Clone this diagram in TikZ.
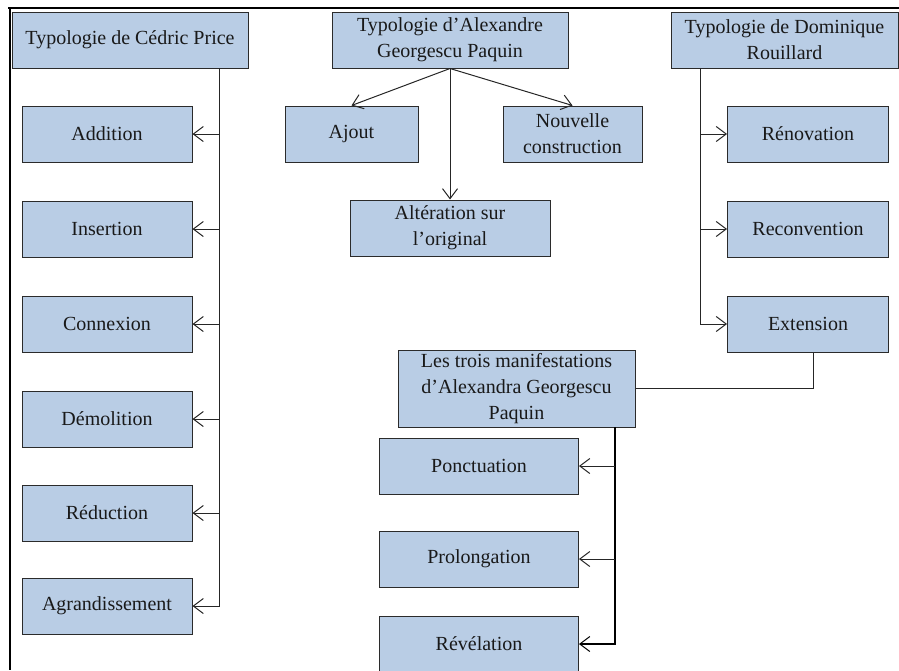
\documentclass[tikz,border=0pt]{standalone}
\usepackage{fontspec}
\setmainfont{Liberation Serif}
\usetikzlibrary{arrows.meta,calc}
\definecolor{boxfill}{HTML}{B9CDE5}
\definecolor{boxline}{HTML}{2B2B2B}

\begin{document}
\begin{tikzpicture}[x=1pt,y=-1pt,
  box/.style={draw=boxline, line width=1pt, fill=boxfill, align=center,
    inner sep=0pt, text=black!90, font=\fontsize{20}{26}\selectfont},
  sz/.style 2 args={minimum width=#1pt, minimum height=#2pt},
  link/.style={line width=1pt, draw=black!85},
  arr/.style={link, -{Straight Barb[length=10pt,width=15pt,line width=1pt]}},
  frame/.style={line width=2pt, draw=black}]

\useasboundingbox (0,0) rectangle (899,670);
\clip (0,0) rectangle (899,670);

% outer frame (top and left edges)
\draw[frame] (8,8) -- (899,8);
\draw[frame] (10,8) -- (10,670);

% headings
\node[box, sz={236}{56}] (cedric) at (130,40) {Typologie de Cédric Price};
\node[box, sz={236}{56}] (alex) at (450,40) {Typologie d’Alexandre\\Georgescu Paquin};
\node[box, sz={227}{56}] (dom) at (784.5,40) {Typologie de Dominique\\Rouillard};

% Price column
\node[box, sz={170}{56}] (add) at (107,134) {Addition};
\node[box, sz={170}{56}] (ins) at (107,229) {Insertion};
\node[box, sz={170}{56}] (con) at (107,324) {Connexion};
\node[box, sz={170}{56}] (dem) at (107,419) {Démolition};
\node[box, sz={170}{56}] (red) at (107,513) {Réduction};
\node[box, sz={170}{56}] (agr) at (107,606) {Agrandissement};

% Georgescu Paquin typology
\node[box, sz={133}{56}] (ajout) at (351.5,134) {Ajout};
\node[box, sz={139}{56}] (nouv) at (572.5,134) {Nouvelle\\construction};
\node[box, sz={200}{56}] (alt) at (450,228) {Altération sur\\l’original};

% Rouillard column
\node[box, sz={161}{56}] (ren) at (808,134) {Rénovation};
\node[box, sz={161}{56}] (rec) at (808,229) {Reconvention};
\node[box, sz={161}{56}] (ext) at (808,324) {Extension};

% three manifestations
\node[box, sz={237}{77}] (trois) at (516.5,388.5) {Les trois manifestations\\d’Alexandra Georgescu\\Paquin};
\node[box, sz={199}{56}] (ponc) at (479,466) {Ponctuation};
\node[box, sz={199}{56}] (prol) at (479,559) {Prolongation};
\node[box, sz={199}{56}] (rev) at (479,644) {Révélation};

% Price connectors
\coordinate (ctop) at (219,68);
\draw[arr] (ctop) |- (agr.east);
\foreach \n in {add,ins,con,dem,red}
  \draw[arr] (\n.east -| ctop) -- (\n.east);

% Georgescu Paquin connectors
\draw[arr] (alex.south) -- (ajout.north);
\draw[arr] (alex.south) -- (nouv.north);
\draw[arr] (alex.south) -- (alt.north);

% Rouillard connectors
\coordinate (dtop) at (700,68);
\draw[arr] (dtop) |- (ext.west);
\foreach \n in {ren,rec}
  \draw[arr] (\n.west -| dtop) -- (\n.west);

% link from Extension to the three manifestations
\draw[link] (trois.east) -| ([xshift=5pt]ext.south);

% three manifestations connectors
\coordinate (ttop) at (615,427);
\draw[arr, line width=1.5pt, draw=black] (ttop) |- (rev.east);
\foreach \n in {ponc,prol}
  \draw[arr] (\n.east -| ttop) -- (\n.east);
\end{tikzpicture}
\end{document}
